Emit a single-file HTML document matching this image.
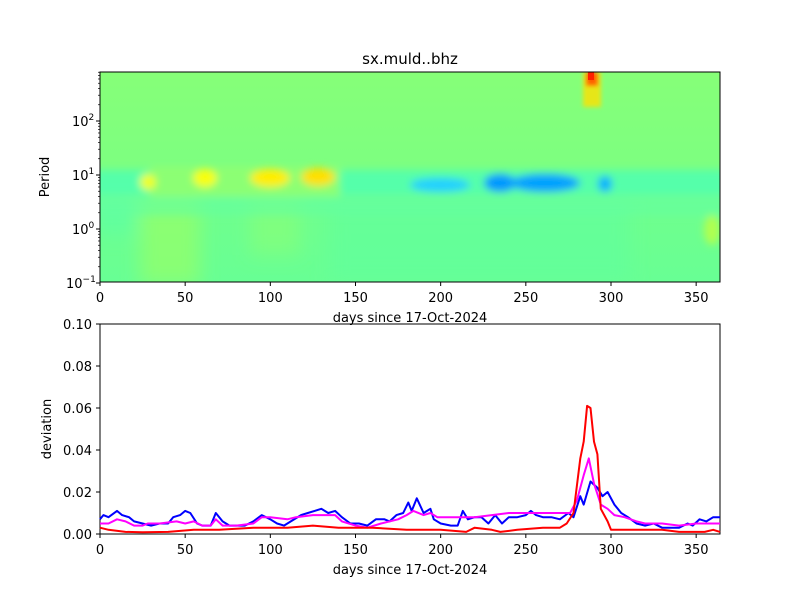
<!DOCTYPE html>
<html><head><meta charset="utf-8"><style>
body{margin:0;background:#fff}
svg text{font-family:"DejaVu Sans","Liberation Sans",sans-serif;font-size:13px;fill:#000}
</style></head><body>
<svg id="s" width="800" height="600" viewBox="0 0 800 600" xmlns="http://www.w3.org/2000/svg">
<defs>
<filter id="b4" x="-50%" y="-50%" width="200%" height="200%"><feGaussianBlur stdDeviation="4"/></filter>
<filter id="b8" x="-50%" y="-50%" width="200%" height="200%"><feGaussianBlur stdDeviation="9"/></filter>
<filter id="b2" x="-50%" y="-50%" width="200%" height="200%"><feGaussianBlur stdDeviation="2"/></filter>
<clipPath id="c1"><rect x="100" y="72" width="620" height="210"/></clipPath>
<linearGradient id="bg" x1="0" y1="0" x2="0" y2="1">
<stop offset="0" stop-color="#86ff78"/><stop offset="0.45" stop-color="#7dff80"/>
<stop offset="0.6" stop-color="#70ff8c"/><stop offset="1" stop-color="#68ff94"/></linearGradient>
</defs>
<g clip-path="url(#c1)">
<rect x="100" y="72" width="620" height="210" fill="url(#bg)"/>
<g filter="url(#b8)">
<rect x="140" y="195" width="60" height="90" fill="#a8ff58" opacity="0.5"/>
<rect x="250" y="195" width="50" height="60" fill="#a0ff60" opacity="0.35"/>
<rect x="330" y="200" width="300" height="80" fill="#5cffa0" opacity="0.5"/>
<rect x="95" y="195" width="40" height="40" fill="#58ffa8" opacity="0.6"/>
</g>
<g filter="url(#b4)">
<rect x="95" y="170" width="630" height="24" fill="#50ffb0" opacity="0.85"/>
<rect x="95" y="194" width="630" height="22" fill="#64ffa0" opacity="0.6"/>
<rect x="150" y="168" width="190" height="28" fill="#b0ff50" opacity="0.6"/>
<ellipse cx="148" cy="182" rx="8" ry="8" fill="#f0ff20"/>
<ellipse cx="205" cy="178" rx="12" ry="9" fill="#f8ff10"/>
<ellipse cx="270" cy="178" rx="20" ry="9" fill="#ffee00"/>
<ellipse cx="318" cy="177" rx="17" ry="9" fill="#ffe000"/>
<ellipse cx="440" cy="185" rx="30" ry="7" fill="#20d0ff"/>
<ellipse cx="500" cy="183" rx="16" ry="9" fill="#0098ff"/>
<ellipse cx="545" cy="183" rx="35" ry="9" fill="#00a0ff"/>
<ellipse cx="605" cy="184" rx="7" ry="8" fill="#00b0ff"/>
<ellipse cx="712" cy="230" rx="8" ry="15" fill="#b0ff50"/>
</g>
<g filter="url(#b2)">
<rect x="583" y="72" width="18" height="35" fill="#ffe000" opacity="0.8"/>
<rect x="586" y="72" width="12" height="14" fill="#ff6000"/>
</g>
<rect x="588" y="72" width="6" height="8" fill="#ff2000"/>
</g>
<rect x="100" y="72" width="620" height="210" fill="none" stroke="#000"/>
<rect x="100" y="324" width="620" height="210" fill="none" stroke="#000"/>
<g id="ax"></g>
<text x="410" y="64" text-anchor="middle" style="font-size:15px">sx.muld..bhz</text>
<text x="410" y="322" text-anchor="middle">days since 17-Oct-2024</text>
<text x="410" y="574" text-anchor="middle">days since 17-Oct-2024</text>
<text transform="translate(49,177) rotate(-90)" text-anchor="middle">Period</text>
<text transform="translate(51,429) rotate(-90)" text-anchor="middle">deviation</text>
<g id="ln" fill="none" stroke-width="2" stroke-linejoin="round"></g>
</svg>
<script>
var NS="http://www.w3.org/2000/svg",ax=document.getElementById("ax"),ln=document.getElementById("ln");
function X(d){return 100+d*620/364}
function el(t,a,p,txt){var e=document.createElementNS(NS,t);for(var k in a)e.setAttribute(k,a[k]);if(txt!==undefined)e.textContent=txt;(p||ax).appendChild(e);return e}
for(var d=0;d<=350;d+=50){var x=X(d);
el("line",{x1:x,x2:x,y1:282,y2:286,stroke:"#000"});el("text",{x:x,y:302,"text-anchor":"middle"},ax,d);
el("line",{x1:x,x2:x,y1:534,y2:538,stroke:"#000"});el("text",{x:x,y:554,"text-anchor":"middle"},ax,d);}
var lab=[["10","2",121],["10","1",175],["10","0",229],["10","−1",283]];
lab.forEach(function(l){el("line",{x1:96,x2:100,y1:l[2],y2:l[2],stroke:"#000"});
var t=el("text",{x:l[1].length>1?66:72,y:l[2]+5},ax,l[0]);var s=el("tspan",{dy:-6,style:"font-size:9px"},t,l[1]);});
for(var e=-1;e<=2;e++)for(var m=2;m<=9;m++){var y=283-(e+1+Math.log10(m))*54;if(y>=72)el("line",{x1:98,x2:100,y1:y,y2:y,stroke:"#000","stroke-width":0.7});}
for(var i=0;i<=5;i++){var v=i*0.02,y=534-v*2100;el("line",{x1:96,x2:100,y1:y,y2:y,stroke:"#000"});el("text",{x:92,y:y+5,"text-anchor":"end"},ax,v.toFixed(2));}
function Y(v){return 534-v*2100}
function pl(pts,c){var s=pts.map(function(p){return X(p[0]).toFixed(1)+","+Y(p[1]).toFixed(1)}).join(" ");el("polyline",{points:s,stroke:c},ln);}
var blue=[[0,.007],[2,.009],[5,.008],[10,.011],[13,.009],[17,.008],[20,.006],[25,.005],[30,.004],[35,.005],[40,.005],[43,.008],[47,.009],[50,.011],[53,.010],[57,.005],[60,.004],[65,.004],[68,.010],[72,.006],[76,.004],[85,.004],[90,.006],[95,.009],[100,.007],[104,.005],[108,.004],[112,.006],[118,.009],[122,.010],[126,.011],[130,.012],[134,.010],[138,.011],[142,.008],[147,.005],[152,.005],[157,.004],[162,.007],[167,.007],[170,.006],[174,.009],[178,.010],[181,.015],[183,.011],[186,.017],[190,.010],[194,.012],[196,.007],[200,.005],[206,.004],[210,.004],[213,.011],[216,.007],[220,.008],[224,.008],[228,.005],[232,.009],[236,.005],[240,.008],[245,.008],[250,.009],[253,.011],[256,.009],[260,.008],[265,.008],[270,.007],[275,.010],[278,.008],[282,.018],[284,.014],[288,.025],[292,.022],[295,.018],[298,.020],[302,.014],[306,.010],[310,.008],[315,.005],[320,.004],[325,.005],[330,.003],[340,.003],[345,.005],[348,.004],[352,.007],[356,.006],[360,.008],[364,.008]];
var mag=[[0,.005],[5,.005],[10,.007],[15,.006],[20,.004],[25,.004],[28,.005],[35,.005],[45,.006],[50,.005],[55,.006],[60,.004],[65,.004],[68,.007],[72,.004],[80,.004],[90,.005],[95,.008],[100,.008],[110,.007],[115,.008],[125,.009],[130,.009],[138,.009],[142,.006],[150,.004],[157,.003],[165,.005],[175,.007],[180,.009],[184,.011],[190,.009],[194,.010],[198,.008],[210,.008],[220,.008],[230,.009],[240,.010],[250,.010],[260,.010],[270,.010],[276,.010],[280,.016],[284,.028],[287,.036],[290,.024],[294,.014],[298,.012],[302,.009],[308,.008],[315,.006],[320,.005],[330,.005],[340,.004],[350,.005],[356,.005],[364,.005]];
var red=[[0,.003],[5,.002],[15,.001],[25,.0008],[40,.001],[55,.002],[70,.002],[90,.003],[110,.003],[125,.004],[140,.003],[160,.003],[180,.002],[200,.002],[215,.001],[220,.003],[230,.002],[235,.001],[245,.002],[260,.003],[270,.003],[274,.005],[278,.010],[282,.036],[284,.044],[286,.061],[288,.060],[290,.044],[292,.038],[294,.012],[298,.006],[300,.002],[305,.002],[315,.002],[330,.002],[340,.001],[355,.001],[360,.002],[364,.001]];
pl(blue,"#0000ff");pl(mag,"#ff00ff");pl(red,"#ff0000");
</script>
</body></html>
